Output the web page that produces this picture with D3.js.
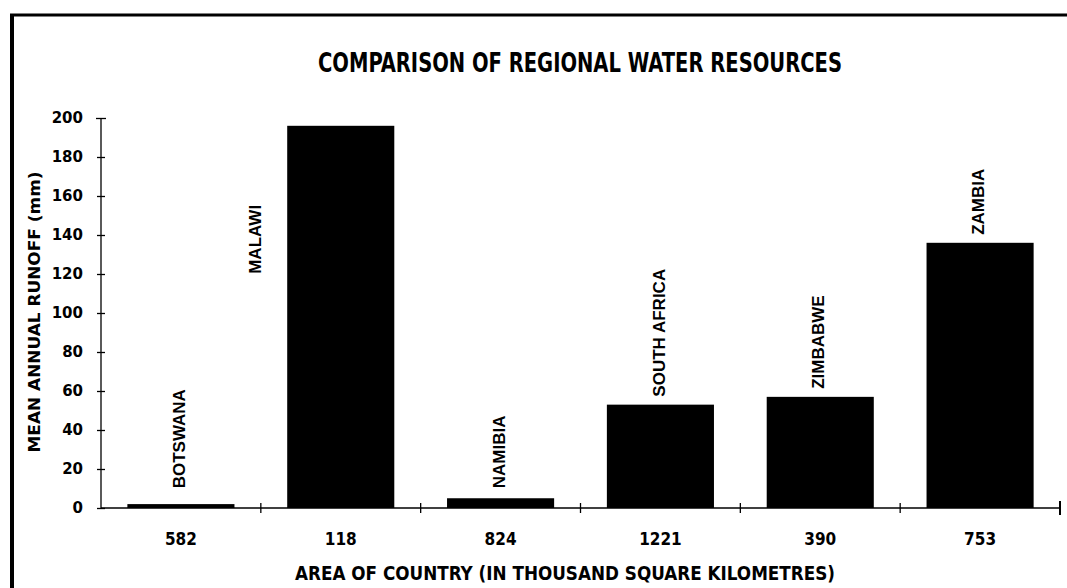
<!DOCTYPE html>
<html>
<head>
<meta charset="utf-8">
<script src="https://cdn.jsdelivr.net/npm/d3@7"></script>
<style>
  html, body { margin: 0; padding: 0; background: #fff; }
  svg { display: block; }
</style>
</head>
<body>
<svg id="chart" width="1067" height="588"></svg>
<script>
// ---- data ----
const countries = ["BOTSWANA", "MALAWI", "NAMIBIA", "SOUTH AFRICA", "ZIMBABWE", "ZAMBIA"];
const runoff = [2, 196, 5, 53, 57, 136];           // mean annual runoff (mm)
const areas = ["582", "118", "824", "1221", "390", "753"]; // thousand km²
const yTicks = [0, 20, 40, 60, 80, 100, 120, 140, 160, 180, 200];
const titleText = "COMPARISON OF REGIONAL WATER RESOURCES";
const xTitleText = "AREA OF COUNTRY (IN THOUSAND SQUARE KILOMETRES)";
const yTitleText = "MEAN ANNUAL RUNOFF (mm)";

const svg = d3.select("#chart");

// frame (partial border as in the scan)
svg.append("line").attr("x1", 12).attr("x2", 12).attr("y1", 14).attr("y2", 588)
  .attr("stroke", "#000").attr("stroke-width", 4);
svg.append("line").attr("x1", 10).attr("x2", 1067).attr("y1", 15).attr("y2", 15)
  .attr("stroke", "#000").attr("stroke-width", 3);

const x = d3.scaleBand().domain(countries).range([101, 1060]).paddingInner(0.33).paddingOuter(0.165);
const y = d3.scaleLinear().domain([0, 200]).range([508, 118]);
const step = x.step();

// title
svg.append("text")
  .attr("x", 580).attr("y", 72)
  .attr("text-anchor", "middle")
  .attr("font-family", "'DejaVu Sans Condensed', 'DejaVu Sans', sans-serif")
  .attr("font-weight", "bold").attr("font-size", 27)
  .attr("textLength", 524).attr("lengthAdjust", "spacingAndGlyphs")
  .text(titleText);

// bars
svg.append("g").selectAll("rect")
  .data(countries)
  .join("rect")
  .attr("x", d => x(d))
  .attr("width", x.bandwidth())
  .attr("y", (d, i) => y(runoff[i]))
  .attr("height", (d, i) => y(0) - y(runoff[i]))
  .attr("fill", "#000");

// y axis
const yAxis = d3.axisLeft(y).tickValues(yTicks).tickSize(4).tickPadding(14).tickFormat(d3.format("d"));
const gy = svg.append("g").attr("transform", "translate(101,0)").call(yAxis);
gy.select(".domain").remove();
gy.append("line").attr("x1", 0).attr("x2", 0).attr("y1", y(200)).attr("y2", y(0))
  .attr("stroke", "#000").attr("stroke-width", 1.3);
gy.selectAll(".tick line").attr("x1", -4).attr("x2", 4).attr("stroke-width", 1.3);
gy.selectAll(".tick").filter(d => d === 200).select("line").attr("x1", -5).attr("x2", 5);
gy.selectAll(".tick text")
  .attr("font-family", "'DejaVu Sans', sans-serif")
  .attr("font-weight", "bold").attr("font-size", 15).attr("fill", "#000");

// y title
svg.append("text")
  .attr("transform", `translate(40,${312}) rotate(-90)`)
  .attr("text-anchor", "middle")
  .attr("font-family", "'DejaVu Sans', sans-serif")
  .attr("font-weight", "bold").attr("font-size", 16)
  .attr("textLength", 281).attr("lengthAdjust", "spacingAndGlyphs")
  .text(yTitleText);

// x axis line and ticks at category boundaries
const gx = svg.append("g");
const x0 = x.range()[0], x1 = x.range()[1];
gx.append("line").attr("x1", x0).attr("x2", x1).attr("y1", y(0)).attr("y2", y(0))
  .attr("stroke", "#000").attr("stroke-width", 1.3);
gx.selectAll("line.tk")
  .data(d3.range(1, countries.length + 1))
  .join("line").attr("class", "tk")
  .attr("x1", i => x0 + i * step).attr("x2", i => x0 + i * step)
  .attr("y1", (i) => y(0) - (i === countries.length ? 7 : 5))
  .attr("y2", (i) => y(0) + (i === countries.length ? 7 : 5))
  .attr("stroke", "#000").attr("stroke-width", (i) => i === countries.length ? 2 : 1.3);

// x tick labels (areas)
gx.selectAll("text.area")
  .data(countries)
  .join("text").attr("class", "area")
  .attr("x", d => x(d) + x.bandwidth() / 2)
  .attr("y", 545)
  .attr("text-anchor", "middle")
  .attr("font-family", "'DejaVu Sans Condensed', 'DejaVu Sans', sans-serif")
  .attr("font-weight", "bold").attr("font-size", 17)
  .text((d, i) => areas[i]);

// x title
svg.append("text")
  .attr("x", 565).attr("y", 580)
  .attr("text-anchor", "middle")
  .attr("font-family", "'DejaVu Sans Condensed', 'DejaVu Sans', sans-serif")
  .attr("font-weight", "bold").attr("font-size", 20)
  .attr("textLength", 540).attr("lengthAdjust", "spacingAndGlyphs")
  .text(xTitleText);

// rotated bar labels
svg.append("g").selectAll("text")
  .data(countries)
  .join("text")
  .attr("font-family", "'Liberation Sans', Arial, sans-serif")
  .attr("font-weight", "bold").attr("font-size", 17)
  .attr("dy", "0.36em")
  .attr("text-anchor", "start")
  .text(d => d)
  .attr("transform", function (d, i) {
    const v = runoff[i];
    const len = this.getComputedTextLength();
    let cx, endY;
    if (y(v) - 8 - len < y(200) - 20) {
      // no room above the bar: label sits beside it, to its left
      cx = x(d) - 32;
      endY = y(v) + 148;
    } else {
      cx = x(d) + x.bandwidth() / 2 - 2;
      endY = y(Math.max(v, 6)) - 8;
    }
    return `translate(${cx},${endY}) rotate(-90)`;
  });
</script>
</body>
</html>
